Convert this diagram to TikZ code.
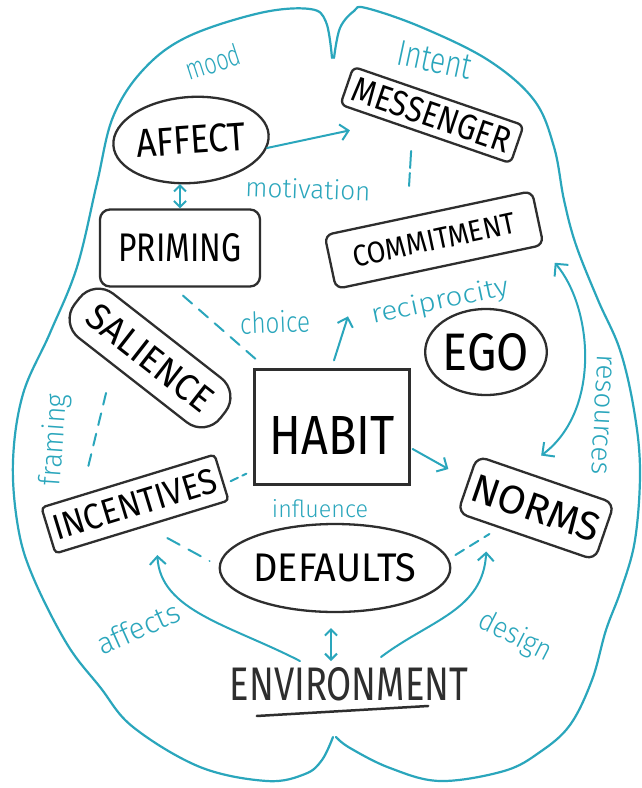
\documentclass[tikz,border=0pt]{standalone}
\usepackage{fontspec}
\usepackage{graphicx}
\newfontfamily\hand{Fira Sans Light}
\newfontfamily\handcap{Fira Sans}
\usetikzlibrary{shapes.geometric,arrows.meta,calc}
\definecolor{teal1}{HTML}{2AA6BC}
\definecolor{ink}{HTML}{2E2E2E}
\newcommand\hw[3]{\resizebox{#1pt}{#2pt}{\hand #3}}
\newcommand\hc[3]{\resizebox{#1pt}{#2pt}{\handcap #3}}
\begin{document}
\begin{tikzpicture}[x=1pt,y=-1pt,
  box/.style={draw=ink, line width=2.3pt, rectangle, rounded corners=#1, inner sep=0pt},
  box/.default=6pt,
  oval/.style={draw=ink, line width=2.3pt, ellipse, inner sep=0pt},
  lab/.style={text=teal1, inner sep=0pt},
  word/.style={text=ink, inner sep=0pt},
  tline/.style={draw=teal1, line width=2pt, line cap=round},
  tarrow/.style={tline, -{Straight Barb[length=8pt,width=16pt]}},
  tdouble/.style={tline, {Straight Barb[length=6pt,width=12pt]}-{Straight Barb[length=6pt,width=12pt]}},
  tdoublebig/.style={tline, {Straight Barb[length=9pt,width=18pt]}-{Straight Barb[length=9pt,width=18pt]}},
  brain/.style={draw=teal1, line width=2.2pt, line cap=round, line join=round},
  inkline/.style={draw=ink, line width=2.5pt, line cap=round}
]
\useasboundingbox (0,0) rectangle (642,788);
\fill[white] (0,0) rectangle (642,788);

% brain outline
\draw[brain] plot[smooth, tension=0.6] coordinates {(332,58) (326,22) (310,9) (260,13) (187,37) (143,70) (113,117) (97,183) (77,267) (50,333) (23,394) (13,461) (18,527) (33,577) (67,644) (100,687) (133,727) (200,767) (267,781) (305,774) (322,760) (333,737)};
\draw[brain] plot[smooth, tension=0.6] coordinates {(334,58) (340,28) (354,11) (366,8) (421,27) (488,60) (534,100) (554,147) (564,200) (576,245) (598,300) (620,350) (634,410) (640,470) (635,540) (621,590) (606,630) (592,680) (570,725) (540,752) (504,771) (440,781) (390,768) (350,748) (336,737)};

% nodes
\node[oval, minimum width=136pt, minimum height=86pt, rotate=4] (affect) at (191,140) {\hc{110}{28}{AFFECT}};
\node[box=6pt, minimum width=180pt, minimum height=40pt, rotate=-19] (messenger) at (432,115) {\hc{165}{25}{MESSENGER}};
\node[box=10pt, minimum width=160pt, minimum height=77pt] (priming) at (180,248) {\hc{123}{28}{PRIMING}};
\node[box=8pt, minimum width=212pt, minimum height=55pt, rotate=12] (commitment) at (434,240) {\hc{165}{21}{COMMITMENT}};
\node[box=24pt, minimum width=185pt, minimum height=56pt, rotate=-38] (salience) at (150,358) {\hc{150}{26}{SALIENCE}};
\node[oval, minimum width=116pt, minimum height=86pt] (ego) at (486,352) {\hc{86}{37}{EGO}};
\node[draw=ink, line width=2.3pt, rectangle, minimum width=155pt, minimum height=115pt, inner sep=0pt] (habit) at (332,427) {\hc{125}{38}{HABIT}\rule{0pt}{54pt}\hspace{10pt}};
\node[box=10pt, minimum width=145pt, minimum height=60pt, rotate=-19] (norms) at (536,508) {\hc{134}{28}{NORMS}};
\node[box=4pt, minimum width=181pt, minimum height=48pt, rotate=17] (incentives) at (135,504) {\hc{170}{25}{INCENTIVES}};
\node[oval, minimum width=186pt, minimum height=88pt] (defaults) at (335,568) {\hc{163}{28}{DEFAULTS}};
\node[word] (env) at (349,684) {\hc{238}{33}{ENVIRONMENT}};

% labels
\node[lab, rotate=18] (mood) at (213,62) {\hw{56}{22}{mood}};
\node[lab, rotate=-12] (intent) at (435,60) {\hw{75}{25}{Intent}};
\node[lab, rotate=-2] (motivation) at (308,189) {\hw{125}{20}{motivation}};
\node[lab, rotate=2] (choice) at (275,322) {\hw{70}{22}{choice}};
\node[lab, rotate=12] (recip) at (440,302) {\hw{140}{20}{reciprocity}};
\node[lab, rotate=-93] (resources) at (602,415) {\hw{120}{15}{resources}};
\node[lab, rotate=86] (framing) at (55,440) {\hw{92}{22}{framing}};
\node[lab] (influence) at (320,509) {\hw{96}{18}{influence}};
\node[lab, rotate=24] (affects) at (138,628) {\hw{88}{22}{affects}};
\node[lab, rotate=-27] (design) at (515,637) {\hw{78}{22}{design}};

% connectors
\draw[tarrow] (affect.-10) -- ($(messenger.south west)+(11,25)$);
\draw[tline, dash pattern=on 17pt off 5pt] ($(messenger.south)+(-14,16)$) -- ($(commitment.north)+(-19,-26)$);
\draw[tdouble] (priming.north |- affect.south) -- (priming.north);
\draw[tline, dash pattern=on 12pt off 9pt] ($(priming.south)+(3,8)$) -- ($(habit.north west)+(5,-7)$);
\draw[tarrow] ($(habit.north)+(2,-8)$) -- ($(habit.north)+(16,-52)$);
\draw[tarrow] ($(habit.east)+(2,22)$) -- ($(norms.west)+(-18,-15)$);
\draw[tdoublebig] ($(commitment.south east)+(10,17)$) .. controls +(38,45) and +(60,-45) .. ($(norms.north)+(-5,-23)$);
\draw[tline, dash pattern=on 8pt off 5pt] ($(incentives.east)+(8,4)$) -- ($(habit.south west)+(-7,-12)$);
\draw[tline, dash pattern=on 12pt off 9pt] ($(salience.south)+(-26,12)$) -- ($(incentives.north)+(-40,-11)$);
\draw[tline, dash pattern=on 14pt off 10pt] ($(incentives.south)+(25,10)$) -- ($(defaults.west)+(-9,-7)$);
\draw[tline, dash pattern=on 10pt off 7pt] ($(defaults.east)+(4,-13)$) -- ($(defaults.east)+(38,-34)$);
\draw[tarrow] ($(env.north)+(-49,-6)$) .. controls +(-70,-36) and +(3,56) .. ($(incentives.south)+(15,27)$);
\draw[tarrow] ($(env.north)+(32,-10)$) .. controls +(49,-37) and +(-3,59) .. ($(norms.south west)+(30,38)$);
\draw[tdouble] ($(defaults.south)+(-4,15)$) -- ($(env.north)+(-18,-6)$);
\draw[inkline] ($(env.south west)+(27,15)$) -- ($(env.south east)+(-40,5)$);
\end{tikzpicture}
\end{document}
